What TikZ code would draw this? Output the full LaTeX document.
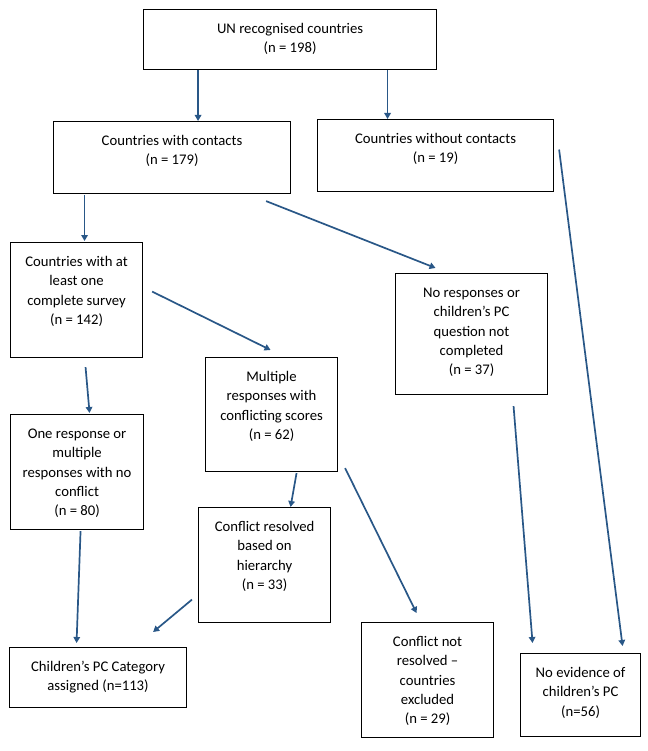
\documentclass[tikz,border=0pt]{standalone}
\usepackage{fontspec}
\setmainfont{Carlito}
\usepackage{tikz}
\usetikzlibrary{arrows.meta,positioning,calc}
\definecolor{myflowblue}{RGB}{41,87,135}
\newcommand{\boxtext}[3]{\parbox[c][#2][t]{#1}{\centering\vspace*{10.5pt}\strut #3}}

\begin{document}
\begin{tikzpicture}[
  x=1pt,
  y=-1pt,
  font=\fontsize{14.7}{19.3}\selectfont,
  mybox/.style={
    draw,
    line width=1.1pt,
    inner sep=0pt,
    anchor=north west
    },
  myarrow/.style={
    draw=myflowblue,
    line width=1.7pt,
    -{Triangle[length=6pt,width=6.5pt]}
    }
]
\useasboundingbox (0,0) rectangle (647,751);

\node[mybox] (un) at (143,9)
  {\boxtext{293pt}{60pt}{UN recognised countries\\ (n = 198)}};
\node[mybox] (contacts) at (53,121)
  {\boxtext{237pt}{72pt}{Countries with contacts\\ (n = 179)}};
\node[mybox] (without) at (317,119)
  {\boxtext{236pt}{72pt}{Countries without contacts\\ (n = 19)}};
\node[mybox] (atleast) at (10,242)
  {\boxtext{132pt}{115pt}{Countries with at\\ least one\\ complete survey\\ (n = 142)}};
\node[mybox] (noresp) at (395,273)
  {\boxtext{152pt}{121pt}{No responses or\\ children’s PC\\ question not\\ completed\\ (n = 37)}};
\node[mybox] (multi) at (205,357)
  {\boxtext{132pt}{114pt}{Multiple\\ responses with\\ conflicting scores\\ (n = 62)}};
\node[mybox] (one) at (10,414)
  {\boxtext{133pt}{115pt}{One response or\\ multiple\\ responses with no\\ conflict\\ (n = 80)}};
\node[mybox] (resolved) at (198,507)
  {\boxtext{132pt}{115pt}{Conflict resolved\\ based on\\ hierarchy\\ (n = 33)}};
\node[mybox] (category) at (9,647)
  {\boxtext{177pt}{60pt}{Children’s PC Category\\ assigned (n=113)}};
\node[mybox] (notres) at (361,622)
  {\boxtext{132pt}{115pt}{Conflict not\\ resolved –\\ countries\\ excluded\\ (n = 29)}};
\node[mybox] (noevid) at (520,653)
  {\boxtext{120pt}{83pt}{No evidence of\\ children’s PC\\ (n=56)}};

\draw[myarrow] ([xshift=-92pt]un.south) -- ([xshift=26pt]contacts.north);
\draw[myarrow] ([xshift=97.5pt]un.south) -- ([xshift=-48pt]without.north);
\draw[myarrow] ([shift={(-87.5pt,-1pt)}]contacts.south) -- ([shift={(8pt,1pt)}]atleast.north);
\draw[myarrow] ([shift={(-25pt,-7pt)}]contacts.south east) -- ([shift={(-36pt,5pt)}]noresp.north);
\draw[myarrow] ([shift={(5pt,6pt)}]without.east) -- ([shift={(42pt,7pt)}]noevid.north);
\draw[myarrow] ([shift={(9pt,8.5pt)}]atleast.east) -- ([shift={(-1pt,7pt)}]multi.north);
\draw[myarrow] ([shift={(9pt,-9pt)}]atleast.south) -- ([shift={(12.5pt,1pt)}]one.north);
\draw[myarrow] ([shift={(42pt,-11pt)}]noresp.south) -- ([shift={(-48pt,10pt)}]noevid.north);
\draw[myarrow] ([shift={(25pt,-1pt)}]multi.south) -- ([xshift=26pt]resolved.north);
\draw[myarrow] ([shift={(7pt,4pt)}]multi.south east) -- ([shift={(-11pt,9pt)}]notres.north);
\draw[myarrow] ([shift={(3.5pt,-1pt)}]one.south) -- ([shift={(-21.5pt,4pt)}]category.north);
\draw[myarrow] ([shift={(-6pt,-34.5pt)}]resolved.west) -- ([shift={(-34pt,15pt)}]category.north east);
\end{tikzpicture}
\end{document}
